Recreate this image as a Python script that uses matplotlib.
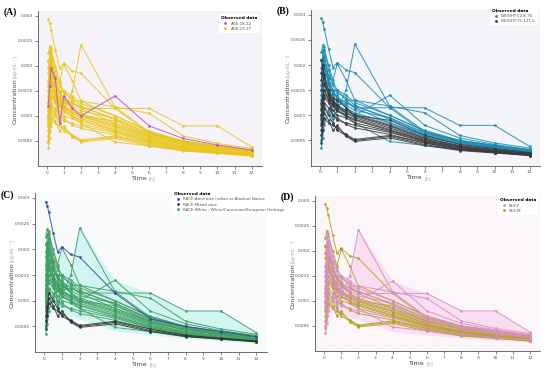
import numpy as np
import matplotlib
matplotlib.use("Agg")
import matplotlib.pyplot as plt
from matplotlib.lines import Line2D

# sampling times (h)
times = [0.083, 0.167, 0.25, 0.5, 0.75, 1, 1.5, 2, 4, 6, 8, 10, 12]

# observed concentrations per subject (ug/mL)
conc = [
    [0.00293, 0.00285, 0.00272, 0.00232, 0.00195, 0.00205, 0.00190, 0.00185, 0.00115, 0.00065, 0.00050, 0.00040, 0.00030],
    [0.00050, 0.00085, 0.00120, 0.00105, 0.00092, 0.00110, 0.00150, 0.00242, 0.00118, 0.00068, 0.00048, 0.00038, 0.00030],
    [0.00120, 0.00160, 0.00195, 0.00175, 0.00085, 0.00140, 0.00115, 0.00100, 0.00140, 0.00080, 0.00055, 0.00042, 0.00032],
    [0.00090, 0.00140, 0.00180, 0.00150, 0.00130, 0.00120, 0.00125, 0.00115, 0.00115, 0.00115, 0.00080, 0.00080, 0.00038],
    [0.00100, 0.00150, 0.00210, 0.00165, 0.00140, 0.00125, 0.00130, 0.00130, 0.00118, 0.00105, 0.00060, 0.00045, 0.00035],
    [0.00225, 0.00240, 0.00230, 0.00200, 0.00170, 0.00203, 0.00170, 0.00130, 0.00100, 0.00070, 0.00050, 0.00040, 0.00032],
    [0.00210, 0.00215, 0.00200, 0.00160, 0.00145, 0.00150, 0.00130, 0.00115, 0.00085, 0.00060, 0.00045, 0.00035, 0.00028],
    [0.00210, 0.00195, 0.00180, 0.00150, 0.00135, 0.00130, 0.00115, 0.00100, 0.00080, 0.00055, 0.00040, 0.00032, 0.00025],
    [0.00185, 0.00200, 0.00175, 0.00140, 0.00125, 0.00120, 0.00105, 0.00095, 0.00075, 0.00052, 0.00038, 0.00030, 0.00024],
    [0.00060, 0.00085, 0.00095, 0.00085, 0.00080, 0.00075, 0.00062, 0.00052, 0.00060, 0.00045, 0.00033, 0.00027, 0.00022],
    [0.00045, 0.00070, 0.00105, 0.00090, 0.00070, 0.00080, 0.00058, 0.00048, 0.00055, 0.00040, 0.00030, 0.00025, 0.00020],
    [0.00035, 0.00055, 0.00080, 0.00110, 0.00120, 0.00115, 0.00100, 0.00085, 0.00048, 0.00040, 0.00032, 0.00027, 0.00023],
    [0.00150, 0.00165, 0.00160, 0.00145, 0.00130, 0.00120, 0.00110, 0.00100, 0.00090, 0.00060, 0.00042, 0.00034, 0.00026],
    [0.00125, 0.00140, 0.00150, 0.00135, 0.00120, 0.00110, 0.00100, 0.00092, 0.00072, 0.00050, 0.00036, 0.00028, 0.00022],
    [0.00130, 0.00200, 0.00215, 0.00175, 0.00150, 0.00130, 0.00120, 0.00110, 0.00095, 0.00065, 0.00048, 0.00038, 0.00030],
    [0.00095, 0.00120, 0.00135, 0.00125, 0.00110, 0.00100, 0.00095, 0.00085, 0.00068, 0.00048, 0.00035, 0.00028, 0.00021],
    [0.00160, 0.00230, 0.00220, 0.00180, 0.00160, 0.00145, 0.00135, 0.00120, 0.00092, 0.00062, 0.00046, 0.00036, 0.00029],
    [0.00080, 0.00110, 0.00125, 0.00115, 0.00100, 0.00095, 0.00082, 0.00075, 0.00062, 0.00045, 0.00032, 0.00026, 0.00020],
    [0.00115, 0.00145, 0.00175, 0.00160, 0.00145, 0.00135, 0.00115, 0.00105, 0.00085, 0.00058, 0.00044, 0.00034, 0.00027],
    [0.00070, 0.00090, 0.00115, 0.00100, 0.00085, 0.00070, 0.00060, 0.00050, 0.00058, 0.00042, 0.00031, 0.00026, 0.00021],
    [0.00140, 0.00180, 0.00235, 0.00190, 0.00165, 0.00150, 0.00140, 0.00125, 0.00100, 0.00068, 0.00050, 0.00040, 0.00031],
    [0.00170, 0.00185, 0.00165, 0.00140, 0.00125, 0.00115, 0.00105, 0.00098, 0.00078, 0.00054, 0.00039, 0.00031, 0.00024],
    [0.00085, 0.00125, 0.00160, 0.00140, 0.00128, 0.00118, 0.00108, 0.00102, 0.00082, 0.00057, 0.00043, 0.00034, 0.00027],
    [0.00110, 0.00130, 0.00140, 0.00130, 0.00118, 0.00108, 0.00098, 0.00090, 0.00070, 0.00050, 0.00037, 0.00029, 0.00023],
    [0.00195, 0.00210, 0.00190, 0.00165, 0.00150, 0.00135, 0.00125, 0.00118, 0.00095, 0.00064, 0.00047, 0.00037, 0.00029],
    [0.00100, 0.00135, 0.00150, 0.00130, 0.00100, 0.00090, 0.00085, 0.00080, 0.00066, 0.00047, 0.00034, 0.00027, 0.00022],
]

# covariates per subject
age = ["23-27", "23-27", "18-22"] + ["23-27"] * 23
weight = ["52.8-75", "52.8-75", "52.8-75", "52.8-75", "52.8-75", "52.8-75", "52.8-75",
          "75-121.5", "75-121.5", "75-121.5", "75-121.5", "52.8-75", "75-121.5", "75-121.5",
          "52.8-75", "75-121.5", "52.8-75", "75-121.5", "52.8-75", "75-121.5", "52.8-75",
          "75-121.5", "52.8-75", "75-121.5", "52.8-75", "75-121.5"]
race = ["American Indian or Alaskan Native"] + ["White - White/Caucasian/European Heritage"] * 8 + \
       ["Mixed race", "Mixed race"] + ["White - White/Caucasian/European Heritage"] * 8 + \
       ["Mixed race"] + ["White - White/Caucasian/European Heritage"] * 6
sex = ["M", "F", "F", "F", "F", "M", "M", "M", "M", "M", "M", "F", "M", "M",
       "F", "M", "F", "M", "M", "M", "F", "M", "F", "M", "M", "F"]

# label, covariate, groups, levels, colours, axes position, background, legend anchor
panels = [
    ("(A)", "AGE", age, ["18-22", "23-27"], ["#c24fc4", "#e8c61c"],
     [0.069, 0.555, 0.407, 0.416], "#f5f3f9", ("upper right", (1.0, 0.99))),
    ("(B)", "WEIGHT", weight, ["52.8-75", "75-121.5"], ["#1a8cb4", "#3a3a3a"],
     [0.565, 0.556, 0.417, 0.418], "#f4f5f8", ("upper right", (1.0, 1.03))),
    ("(C)", "RACE", race, ["American Indian or Alaskan Native", "Mixed race",
                           "White - White/Caucasian/European Heritage"],
     ["#3447aa", "#2e352e", "#3f9e62"], [0.064, 0.056, 0.421, 0.427], "#f8fafb",
     ("upper left", (0.58, 1.03))),
    ("(D)", "SEX", sex, ["F", "M"], ["#d68fc2", "#b5a21e"],
     [0.573, 0.059, 0.409, 0.416], "#faf6fa", ("upper right", (1.0, 1.01))),
]

fig = plt.figure(figsize=(5.5, 3.73), dpi=100)
t = np.array(times)
c = np.array(conc)

for label, cov, groups, levels, colors, pos, bg, (loc, anchor) in panels:
    ax = fig.add_axes(pos)
    ax.set_facecolor(bg)
    cmap = dict(zip(levels, colors))

    # shaded envelope as in the original tool output
    if cov == "RACE":
        sel = [i for i, g in enumerate(groups) if g == levels[2]]
        ax.fill_between(t, c[sel].min(axis=0) * 0.85, c[sel].max(axis=0), color="#aef2e8", alpha=0.5, lw=0)
    if cov == "SEX":
        sel = [i for i, g in enumerate(groups) if g == "F"]
        ax.fill_between(t, c[sel].min(axis=0) * 0.8, c[sel].max(axis=0), color="#f9cfee", alpha=0.6, lw=0)

    # draw the larger group first so minorities sit on top
    order = sorted(range(len(conc)), key=lambda i: -groups.count(groups[i]))
    for i in order:
        col = cmap[groups[i]]
        ax.plot(t, c[i], color=col, lw=0.75, alpha=0.85, marker="o", ms=2.0, mew=0)

    ax.set_xlim(-0.52, 12.6)
    ax.set_ylim(0, 0.0031)
    ax.set_xticks(range(13))
    ax.set_yticks([0.0005, 0.001, 0.0015, 0.002, 0.0025, 0.003])
    ax.set_yticklabels(["0.0005", "0.001", "0.0015", "0.002", "0.0025", "0.003"])
    ax.tick_params(labelsize=3.2, length=2, width=0.5, pad=1.5, colors="#555555")
    for s in ["top", "right"]:
        ax.spines[s].set_visible(False)
    for s in ["left", "bottom"]:
        ax.spines[s].set_color("#555555")
        ax.spines[s].set_linewidth(0.6)

    ax.text(-0.1, 0.42, "Concentration", transform=ax.transAxes, rotation=90,
            ha="center", va="center", fontsize=4.6, color="#444444")
    ax.text(-0.1, 0.64, "[µg·mL⁻¹]", transform=ax.transAxes, rotation=90,
            ha="center", va="center", fontsize=3.4, color="#aaaaaa")
    ax.text(0.45, -0.062, "Time", transform=ax.transAxes, ha="center", va="top",
            fontsize=4.6, color="#444444")
    ax.text(0.51, -0.066, "[h]", transform=ax.transAxes, ha="center", va="top",
            fontsize=3.4, color="#aaaaaa")

    handles = [Line2D([], [], ls="", marker="o", ms=2.0, mew=0, color=cmap[lv],
                      label=f"{cov}:{lv}") for lv in levels]
    leg = ax.legend(handles=handles, title="Observed data", loc=loc,
                    bbox_to_anchor=anchor, fontsize=2.9, title_fontsize=3.2,
                    frameon=True, facecolor="white", edgecolor="none", framealpha=1,
                    handletextpad=0.3, labelspacing=0.3, borderpad=0.5,
                    alignment="left")
    leg.get_title().set_fontweight("bold")
    for txt in leg.get_texts():
        txt.set_color("#555555")

    fig.text(pos[0] - 0.062, pos[1] + pos[3] - 0.005, label, fontsize=7,
             fontweight="bold", family="Liberation Serif", ha="left", va="center")

fig.savefig("out.png", dpi=100)
